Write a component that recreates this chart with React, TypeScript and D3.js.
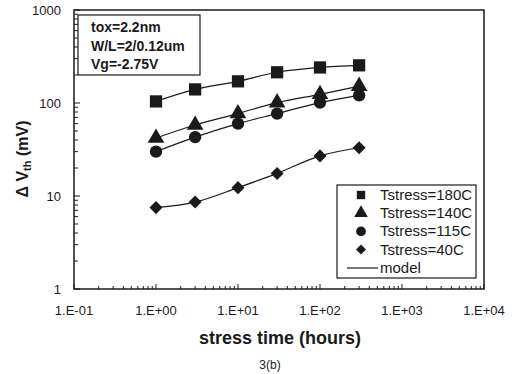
import React, { useRef, useEffect } from "react";
import * as d3 from "d3";

const hours = [1, 3, 10, 30, 100, 300];
const t180 = [104, 140, 171, 214, 241, 254];
const t140 = [42, 58, 77, 101, 124, 152];
const t115 = [30, 43, 60, 77, 101, 121];
const t40 = [7.5, 8.6, 12.3, 17.5, 27, 33];
const legendLabels = ["Tstress=180C", "Tstress=140C", "Tstress=115C", "Tstress=40C"];
const xTicks = [0.1, 1, 10, 100, 1000, 10000];
const xTickLabels = ["1.E-01", "1.E+00", "1.E+01", "1.E+02", "1.E+03", "1.E+04"];
const yTicks = [1, 10, 100, 1000];
const infoLines = ["tox=2.2nm", "W/L=2/0.12um", "Vg=-2.75V"];

const series = [
  { values: t180, shape: d3.symbolSquare, size: 150, rot: 0, legendSize: 70 },
  { values: t140, shape: d3.symbolTriangle, size: 120, rot: 0, legendSize: 80 },
  { values: t115, shape: d3.symbolCircle, size: 120, rot: 0, legendSize: 75 },
  { values: t40, shape: d3.symbolSquare, size: 85, rot: 45, legendSize: 50 },
];

const App = () => {
  const svgRef = useRef(null);

  useEffect(() => {
    const svg = d3.select(svgRef.current);
    svg.selectAll("*").remove();

    const margin = { top: 10, right: 36, bottom: 85, left: 74 };
    const width = 520;
    const height = 374;
    const ink = "#1a1a1a";
    const font = "Arial, 'Liberation Sans', sans-serif";

    const x = d3.scaleLog().domain([0.1, 10000]).range([margin.left, width - margin.right]);
    const y = d3.scaleLog().domain([1, 1000]).range([height - margin.bottom, margin.top]);

    // minor ticks, pointing inward
    const minors = [];
    for (let e = -1; e < 4; e++) for (let k = 2; k <= 9; k++) minors.push(k * Math.pow(10, e));
    svg
      .append("g")
      .selectAll("line")
      .data(minors)
      .join("line")
      .attr("x1", (d) => x(d))
      .attr("x2", (d) => x(d))
      .attr("y1", y(1))
      .attr("y2", y(1) - 3)
      .attr("stroke", ink);
    const yMinors = [];
    for (let e = 0; e < 3; e++) for (let k = 2; k <= 9; k++) yMinors.push(k * Math.pow(10, e));
    svg
      .append("g")
      .selectAll("line")
      .data(yMinors)
      .join("line")
      .attr("x1", x(0.1))
      .attr("x2", x(0.1) + 4)
      .attr("y1", (d) => y(d))
      .attr("y2", (d) => y(d))
      .attr("stroke", ink);
    svg
      .append("g")
      .selectAll("line")
      .data(yTicks)
      .join("line")
      .attr("x1", x(0.1))
      .attr("x2", x(0.1) + 6)
      .attr("y1", (d) => y(d))
      .attr("y2", (d) => y(d))
      .attr("stroke", ink);
    svg
      .append("g")
      .selectAll("line")
      .data(xTicks)
      .join("line")
      .attr("x1", (d) => x(d))
      .attr("x2", (d) => x(d))
      .attr("y1", y(1))
      .attr("y2", y(1) - 5)
      .attr("stroke", ink);

    // frame
    svg
      .append("rect")
      .attr("x", x(0.1))
      .attr("y", y(1000))
      .attr("width", x(10000) - x(0.1))
      .attr("height", y(1) - y(1000))
      .attr("fill", "none")
      .attr("stroke", ink)
      .attr("stroke-width", 1.5);

    // tick labels
    svg
      .append("g")
      .selectAll("text")
      .data(xTicks)
      .join("text")
      .attr("x", (d) => x(d))
      .attr("y", y(1) + 26)
      .attr("text-anchor", "middle")
      .attr("font-family", font)
      .attr("font-size", 13)
      .attr("fill", ink)
      .text((d, i) => xTickLabels[i]);
    svg
      .append("g")
      .selectAll("text")
      .data(yTicks)
      .join("text")
      .attr("x", x(0.1) - 13)
      .attr("y", (d) => y(d) + 5)
      .attr("text-anchor", "end")
      .attr("font-family", font)
      .attr("font-size", 13)
      .attr("fill", ink)
      .text((d) => d);

    // axis titles
    svg
      .append("text")
      .attr("x", 280)
      .attr("y", 344)
      .attr("text-anchor", "middle")
      .attr("font-family", font)
      .attr("font-weight", "bold")
      .attr("font-size", 18)
      .attr("fill", ink)
      .text("stress time (hours)");
    svg
      .append("text")
      .attr("x", 270)
      .attr("y", 369)
      .attr("text-anchor", "middle")
      .attr("font-family", font)
      .attr("font-size", 12)
      .attr("fill", ink)
      .text("3(b)");
    const yt = svg
      .append("text")
      .attr("transform", "translate(28,159) rotate(-90)")
      .attr("text-anchor", "middle")
      .attr("font-family", font)
      .attr("font-weight", "bold")
      .attr("font-size", 16)
      .attr("fill", ink);
    yt.append("tspan").text("\u0394 V");
    yt.append("tspan").attr("font-size", 11).attr("dy", 3).text("th");
    yt.append("tspan").attr("dy", -3).text(" (mV)");

    // model lines and markers
    const line = d3
      .line()
      .x((d, i) => x(hours[i]))
      .y((d) => y(d))
      .curve(d3.curveCatmullRom.alpha(0.5));
    series.forEach((s) => {
      svg
        .append("path")
        .attr("d", line(s.values))
        .attr("fill", "none")
        .attr("stroke", ink)
        .attr("stroke-width", 1.2);
      svg
        .append("g")
        .selectAll("path")
        .data(s.values)
        .join("path")
        .attr("transform", (d, i) => `translate(${x(hours[i])},${y(d)}) rotate(${s.rot})`)
        .attr("d", d3.symbol().type(s.shape).size(s.size)())
        .attr("fill", ink);
    });

    // info box
    svg
      .append("rect")
      .attr("x", 78)
      .attr("y", 15)
      .attr("width", 122)
      .attr("height", 60)
      .attr("fill", "white")
      .attr("stroke", ink)
      .attr("stroke-width", 1.2);
    svg
      .append("g")
      .selectAll("text")
      .data(infoLines)
      .join("text")
      .attr("x", 91)
      .attr("y", (d, i) => 32 + i * 18.5)
      .attr("font-family", font)
      .attr("font-weight", "bold")
      .attr("font-size", 14)
      .attr("fill", ink)
      .text((d) => d);

    // legend
    const lg = svg.append("g");
    lg.append("rect")
      .attr("x", 337)
      .attr("y", 185)
      .attr("width", 139)
      .attr("height", 93)
      .attr("fill", "white")
      .attr("stroke", ink)
      .attr("stroke-width", 1.2);
    series.forEach((s, i) => {
      const cy = 195 + i * 18.2;
      lg.append("path")
        .attr("transform", `translate(361,${cy}) rotate(${s.rot})`)
        .attr("d", d3.symbol().type(s.shape).size(s.legendSize)())
        .attr("fill", ink);
      lg.append("text")
        .attr("x", 380)
        .attr("y", cy + 5)
        .attr("font-family", font)
        .attr("font-size", 15)
        .attr("fill", ink)
        .text(legendLabels[i]);
    });
    lg.append("line")
      .attr("x1", 347)
      .attr("x2", 378)
      .attr("y1", 268)
      .attr("y2", 268)
      .attr("stroke", ink)
      .attr("stroke-width", 1.2);
    lg.append("text")
      .attr("x", 380)
      .attr("y", 273)
      .attr("font-family", font)
      .attr("font-size", 15)
      .attr("fill", ink)
      .text("model");
  }, []);

  return (
    <svg
      ref={svgRef}
      width={520}
      height={374}
      style={{ position: "absolute", left: 0, top: 0, background: "white" }}
    ></svg>
  );
};

export default App;
